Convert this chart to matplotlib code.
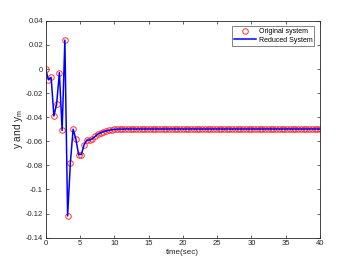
import matplotlib
matplotlib.use("Agg")
import matplotlib.pyplot as plt
import numpy as np

plt.rcParams['font.family'] = ['Liberation Sans', 'DejaVu Sans']
plt.rcParams['mathtext.fontset'] = 'custom'
plt.rcParams['mathtext.rm'] = 'Liberation Sans'

# time samples (sec)
time = [round(0.4 * i, 1) for i in range(101)]

# original system output y
y_orig = [0.000, -0.009, -0.007, -0.039, -0.029, -0.003, -0.051, 0.024, -0.122, -0.078,
          -0.050, -0.058, -0.071, -0.071, -0.063, -0.059, -0.059, -0.058, -0.056, -0.054,
          -0.053, -0.052, -0.0515, -0.051, -0.0505, -0.0502, -0.0500, -0.0499, -0.0499, -0.0498,
          -0.0498, -0.0498, -0.0498, -0.0498, -0.0498, -0.0498, -0.0498, -0.0498, -0.0498, -0.0498,
          -0.0498, -0.0498, -0.0498, -0.0498, -0.0498, -0.0498, -0.0498, -0.0498, -0.0498, -0.0498,
          -0.0498, -0.0498, -0.0498, -0.0498, -0.0498, -0.0498, -0.0498, -0.0498, -0.0498, -0.0498,
          -0.0498, -0.0498, -0.0498, -0.0498, -0.0498, -0.0498, -0.0498, -0.0498, -0.0498, -0.0498,
          -0.0498, -0.0498, -0.0498, -0.0498, -0.0498, -0.0498, -0.0498, -0.0498, -0.0498, -0.0498,
          -0.0498, -0.0498, -0.0498, -0.0498, -0.0498, -0.0498, -0.0498, -0.0498, -0.0498, -0.0498,
          -0.0498, -0.0498, -0.0498, -0.0498, -0.0498, -0.0498, -0.0498, -0.0498, -0.0498, -0.0498,
          -0.0498]

# reduced system output y_m (visually identical)
y_red = list(y_orig)

xticks = [0, 5, 10, 15, 20, 25, 30, 35, 40]
yticks = [0.04, 0.02, 0, -0.02, -0.04, -0.06, -0.08, -0.1, -0.12, -0.14]
ytick_labels = ['0.04', '0.02', '0', '-0.02', '-0.04', '-0.06', '-0.08', '-0.1', '-0.12', '-0.14']

fig = plt.figure(figsize=(3.54, 2.67), dpi=100)
ax = fig.add_axes([0.129, 0.110, 0.775, 0.812])

ax.plot(time, y_orig, linestyle='none', marker='o', markersize=4.0,
        markerfacecolor='none', markeredgecolor='#ff3030', markeredgewidth=0.7,
        label='Original system')
ax.plot(time, y_red, color='#0000ff', linewidth=1.1, label='Reduced System')

ax.set_xlim(0, 40)
ax.set_ylim(-0.14, 0.04)
ax.set_xticks(xticks)
ax.set_xticklabels([str(v) for v in xticks])
ax.set_yticks(yticks)
ax.set_yticklabels(ytick_labels)
ax.tick_params(direction='in', top=True, right=True, labelsize=5.5, length=2.5,
               width=0.5, colors='#262626', pad=2)
for s in ax.spines.values():
    s.set_linewidth(0.6)
    s.set_color('#262626')

ax.set_xlabel('time(sec)', fontsize=5.8, labelpad=1.5, color='#262626')
ax.set_ylabel('y and y$_\\mathregular{m}$', fontsize=7.3, labelpad=0.5, color='#262626')

leg = ax.legend(loc='upper right', fontsize=5, frameon=True, fancybox=False,
                edgecolor='#262626', borderpad=0.3, handlelength=3.2,
                handletextpad=0.4, labelspacing=0.2, borderaxespad=0.8)
leg.get_frame().set_linewidth(0.5)

fig.savefig('out.png', dpi=100, facecolor='white')
